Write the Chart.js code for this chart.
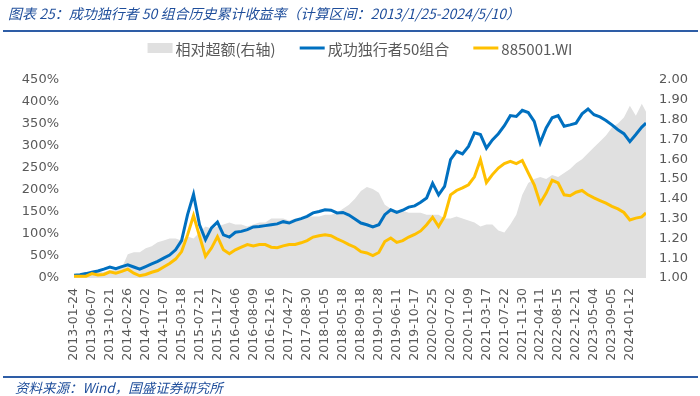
<!DOCTYPE html>
<html><head><meta charset="utf-8">
<script src="https://cdn.jsdelivr.net/npm/chart.js@4.4.1/dist/chart.umd.min.js"></script>
<style>
html,body{margin:0;padding:0;background:#fff;}
#wrap{position:relative;width:700px;height:396px;overflow:hidden;}
canvas{position:absolute;left:0;top:0;}
#title{position:absolute;left:8px;top:3px;font:italic 14px "Noto Sans CJK SC";color:#1F4E9B;white-space:nowrap;}
.rule{position:absolute;left:3px;width:695px;height:2px;background:#2E5DA6;}
#src{position:absolute;left:15px;top:377px;font:italic 13.5px "Noto Sans CJK SC";color:#1F4E9B;white-space:nowrap;}
</style></head>
<body><div id="wrap">
<canvas id="c" width="700" height="396"></canvas>
<div id="title">图表 25：成功独行者 50 组合历史累计收益率（计算区间：2013/1/25-2024/5/10）</div>
<div class="rule" style="top:30px"></div>
<div class="rule" style="top:376px"></div>
<div id="src">资料来源：Wind，国盛证券研究所</div>
</div>
<script>
// tick labels (one every ~90 trading days)
const tickLabels = ['2013-01-24','2013-06-07','2013-10-21','2014-02-26','2014-07-02','2014-11-07','2015-03-18','2015-07-21','2015-11-27','2016-04-06','2016-08-09','2016-12-16','2017-04-27','2017-08-30','2018-01-05','2018-05-18','2018-09-18','2019-01-28','2019-06-11','2019-10-17','2020-02-25','2020-07-02','2020-11-09','2021-03-17','2021-07-22','2021-11-30','2022-04-11','2022-08-15','2022-12-21','2023-05-04','2023-09-05','2024-01-12'];
// samples: three per tick interval, last one = 2024-05-10
const samplesPerTick = 3;
const lastSamplePos = 31.9;
const seriesNames = ['相对超额(右轴)','成功独行者50组合','885001.WI'];
// cumulative return, %
const portfolio = [6,7.5,10,13,16,20,25,21,26,30,25,20,26,32,38,45,52,64,85,144,190,121,87,114,127,98,93,104,106,110,116,117,119,121,123,128,125,131,135,140,148,151,155,154,148,149,143,134,125,121,116,121,144,155,149,154,161,164,172,182,215,189,208,269,288,282,299,330,326,295,314,328,346,369,367,381,376,356,307,341,364,369,345,348,352,373,384,371,366,358,348,337,328,310,326,343,352];
const index885001 = [4,4,4,10,7,8,14,11,15,20,11,5,8,13,17,25,33,43,60,98,142,95,49,68,94,64,55,64,70,76,73,76,76,70,69,73,76,76,80,85,93,96,98,96,89,83,76,70,60,57,51,58,83,91,81,85,93,99,107,121,138,117,140,189,199,205,212,230,269,217,235,250,260,265,260,267,239,212,170,193,222,216,189,187,195,199,189,182,176,170,163,157,149,132,136,139,148];
// relative excess (right axis)
const relExcess = [1.01,1.02,1.02,1.03,1.03,1.03,1.04,1.04,1.05,1.12,1.13,1.13,1.15,1.16,1.18,1.19,1.20,1.20,1.19,1.21,1.20,1.23,1.26,1.25,1.26,1.27,1.28,1.27,1.27,1.26,1.27,1.28,1.28,1.30,1.30,1.30,1.29,1.30,1.30,1.31,1.31,1.31,1.32,1.32,1.33,1.35,1.37,1.40,1.44,1.46,1.45,1.43,1.37,1.35,1.34,1.34,1.33,1.33,1.33,1.32,1.32,1.32,1.30,1.30,1.31,1.30,1.29,1.28,1.26,1.27,1.27,1.24,1.23,1.27,1.32,1.42,1.48,1.50,1.51,1.50,1.52,1.51,1.53,1.55,1.58,1.60,1.63,1.66,1.69,1.72,1.76,1.78,1.81,1.87,1.82,1.88,1.84];
const leftTicks = {min:0, max:450, step:50};
const rightTicks = {min:1, max:2, step:0.1};

function toPoints(arr){
  return arr.map((v,i)=>({x: i===arr.length-1 ? lastSamplePos : i/samplesPerTick, y:v}));
}

const tickFont = {family:'DejaVu Sans', size:13};
const legendPlugin = {
  id:'customLegend',
  afterDraw(chart){
    const ctx = chart.ctx;
    const ds = chart.data.datasets;
    ctx.save();
    ctx.font = '15px "Noto Sans CJK SC"';
    const markerW = 25, gapM = 3, gapItem = 24;
    const widths = ds.map(d=>ctx.measureText(d.label).width);
    const total = widths.reduce((a,b)=>a+b,0) + ds.length*(markerW+gapM) + (ds.length-1)*gapItem;
    let x = (chart.chartArea.left + chart.chartArea.right)/2 - total/2;
    const y = 48;
    ds.forEach((d,i)=>{
      if (d.fill) { ctx.fillStyle = d.backgroundColor; ctx.fillRect(x, y-5, markerW, 10); }
      else { ctx.strokeStyle = d.borderColor; ctx.lineWidth = 3; ctx.beginPath(); ctx.moveTo(x,y); ctx.lineTo(x+markerW,y); ctx.stroke(); }
      x += markerW + gapM;
      ctx.fillStyle = '#595959'; ctx.textBaseline = 'middle'; ctx.textAlign = 'left';
      ctx.fillText(d.label, x, y+1);
      x += widths[i] + gapItem;
    });
    ctx.restore();
  }
};

new Chart(document.getElementById('c'), {
  type:'line',
  data:{
    datasets:[
      {label:seriesNames[0], data:toPoints(relExcess), yAxisID:'y1', fill:'start', backgroundColor:'#E0E0E0', borderWidth:0, borderColor:'rgba(0,0,0,0)', pointRadius:0, order:3},
      {label:seriesNames[1], data:toPoints(portfolio), yAxisID:'y', fill:false, borderColor:'#0070C0', borderWidth:3, pointRadius:0, order:2},
      {label:seriesNames[2], data:toPoints(index885001), yAxisID:'y', fill:false, borderColor:'#FFC000', borderWidth:3, pointRadius:0, order:1}
    ]
  },
  options:{
    responsive:false, animation:false, devicePixelRatio:1,
    layout:{padding:{top:80, bottom:28, left:0, right:0}},
    plugins:{legend:{display:false}, tooltip:{enabled:false}},
    scales:{
      x:{type:'linear', min:0, max:lastSamplePos,
        grid:{display:false, drawTicks:false}, border:{display:false},
        afterBuildTicks:(s)=>{ s.ticks = tickLabels.map((_,i)=>({value:i})); },
        afterFit:(s)=>{ s.height = 90; },
        ticks:{autoSkip:false, minRotation:90, maxRotation:90, padding:10, color:'#595959', font:{family:'DejaVu Sans', size:12.5},
          callback:(v)=>tickLabels[v] ?? ''}
      },
      y:{position:'left', min:leftTicks.min, max:leftTicks.max,
        grid:{display:false, drawTicks:false}, border:{display:false},
        afterFit:(s)=>{ s.width = 74; },
        ticks:{stepSize:leftTicks.step, padding:15, color:'#595959', font:tickFont, callback:(v)=>v+'%'}
      },
      y1:{position:'right', min:rightTicks.min, max:rightTicks.max,
        grid:{display:false, drawTicks:false}, border:{display:false},
        afterFit:(s)=>{ s.width = 54; },
        ticks:{stepSize:rightTicks.step, padding:13, color:'#595959', font:tickFont, callback:(v)=>Number(v).toFixed(2)}
      }
    }
  },
  plugins:[legendPlugin]
});
</script>
</body></html>
